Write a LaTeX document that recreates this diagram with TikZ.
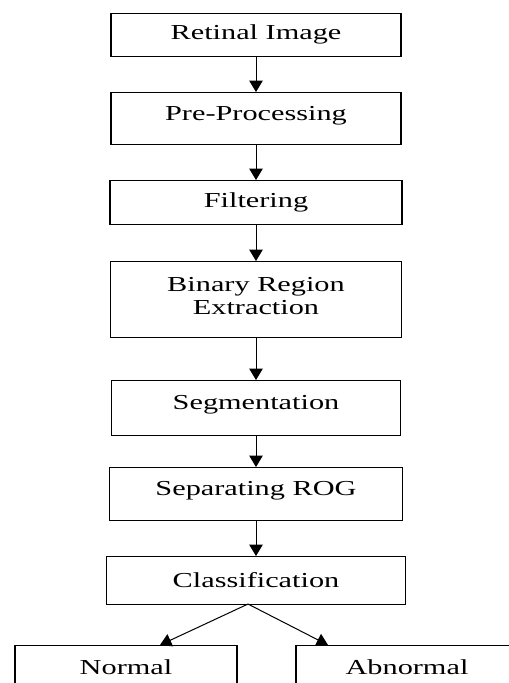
\documentclass[tikz,border=0pt]{standalone}
\usepackage{fontspec}
\setmainfont{Liberation Serif}[FakeStretch=1.42]
\usetikzlibrary{arrows.meta, positioning}

\begin{document}
\begin{tikzpicture}[
    node distance=27pt,
    pbox/.style={rectangle, draw=black, line width=0.8pt, outer sep=0pt,
                 minimum width=218pt, minimum height=36pt,
                 font=\fontsize{16}{17.25}\selectfont, align=center},
    obox/.style={pbox, minimum width=166.5pt, minimum height=33pt},
    arr/.style={-{Triangle[length=8.5pt, width=10pt]}, line width=0.75pt},
]

\useasboundingbox (0,0) rectangle (381.75pt,-512.25pt);
\clip (0,0) rectangle (381.75pt,-512.25pt);

\node[pbox, minimum width=217.5pt, minimum height=32.25pt] (s1) at (192pt,-25.9pt) {Retinal Image};
\node[pbox, minimum width=217.5pt, minimum height=39pt, text depth=0.72em, below=of s1] (s2) {Pre-Processing};
\node[pbox, minimum width=219pt, minimum height=33pt, below=of s2] (s3) {Filtering};
\node[pbox, minimum height=57pt, text depth=0.54em, below=27.75pt of s3] (s4) {Binary Region\\Extraction};
\node[pbox, minimum width=217pt, minimum height=41.25pt, text depth=0.72em, below=32.25pt of s4] (s5) {Segmentation};
\node[pbox, minimum width=220pt, minimum height=39.75pt, text depth=0.72em, below=24pt of s5] (s6) {Separating ROG};
\node[pbox, minimum width=224pt, minimum height=36pt, below=of s6] (s7) {Classification};
\node[obox, below=30.75pt of s7, xshift=-97.5pt] (n1) {Normal};
\node[obox, below=30.75pt of s7, xshift=113.25pt] (n2) {Abnormal};

\draw[arr] (s1) -- (s2);
\draw[arr] (s2) -- (s3);
\draw[arr] (s3) -- (s4);
\draw[arr] (s4) -- (s5);
\draw[arr] (s5) -- (s6);
\draw[arr] (s6) -- (s7);
\draw[arr] ([xshift=-6pt]s7.south) -- ([xshift=25.5pt]n1.north);
\draw[arr] ([xshift=-6pt]s7.south) -- ([xshift=24pt]n2.north west);

\end{tikzpicture}
\end{document}
